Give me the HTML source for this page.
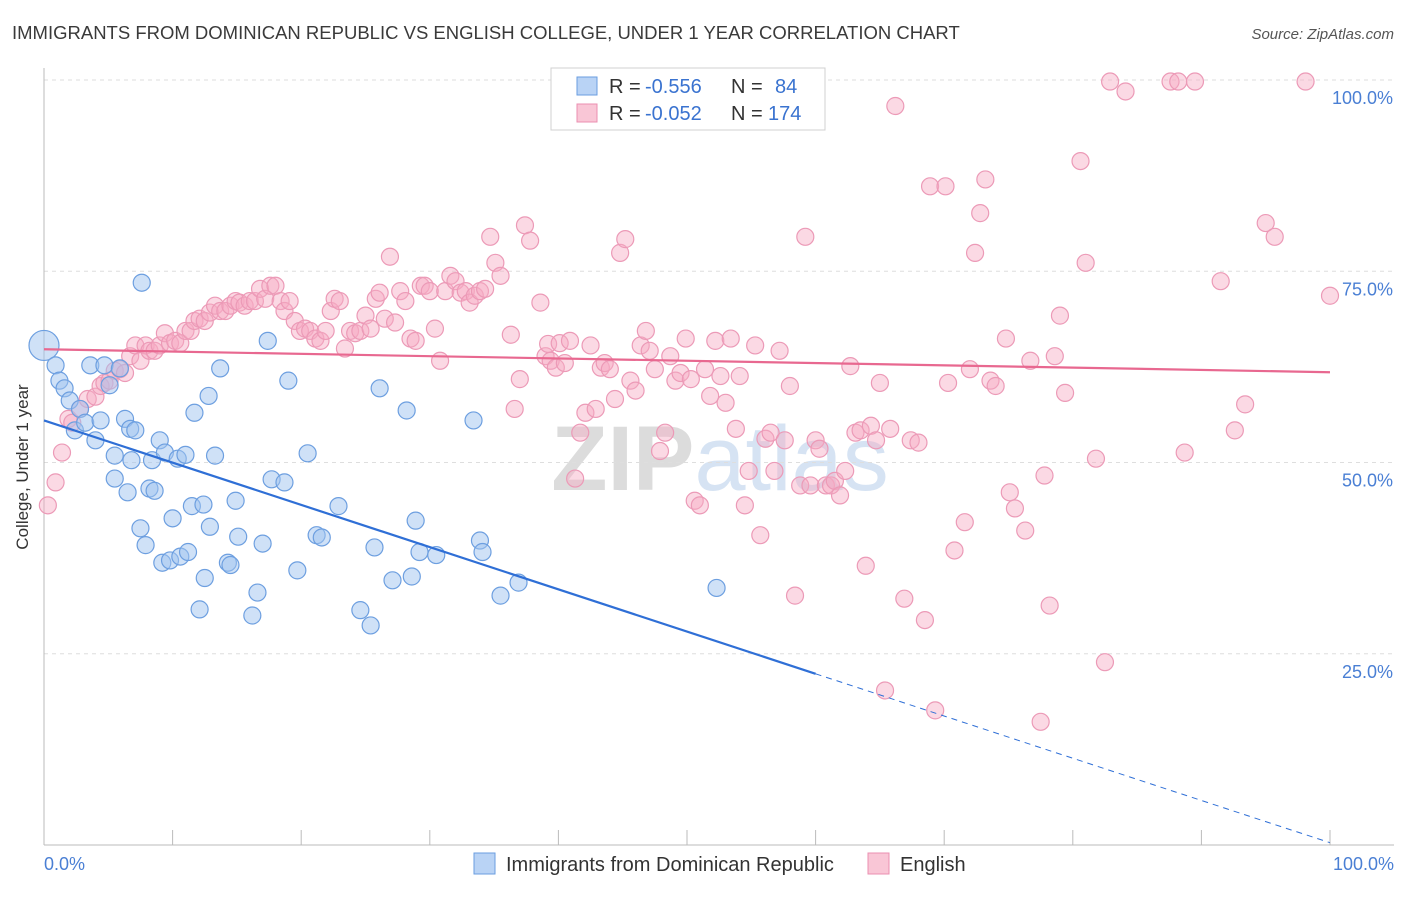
<!DOCTYPE html>
<html><head><meta charset="utf-8">
<style>
body{margin:0;background:#fff;font-family:"Liberation Sans",sans-serif;}
svg text{font-family:"Liberation Sans",sans-serif;}
</style></head>
<body>
<svg id="chart" width="1406" height="892" xmlns="http://www.w3.org/2000/svg">
<text x="12" y="39" font-size="18.5" fill="#3a3a3a">IMMIGRANTS FROM DOMINICAN REPUBLIC VS ENGLISH COLLEGE, UNDER 1 YEAR CORRELATION CHART</text>
<text x="1394" y="39" font-size="15" fill="#555" font-style="italic" text-anchor="end">Source: ZipAtlas.com</text>
<text x="720" y="490" font-size="92" fill="#e4e4e4" text-anchor="middle" font-family="Liberation Serif"><tspan font-weight="bold" fill="#dcdcdc">ZIP</tspan><tspan fill="#d6e3f3" font-family="Liberation Sans">atlas</tspan></text>
<g id="grid"></g>
<g id="axes"></g>
<g id="pink"></g>
<g id="blue"></g>
<g id="lines"></g>
<text x="19" y="458" font-size="17" fill="#333" text-anchor="middle" transform="rotate(-90 28 458)">College, Under 1 year</text>
<text x="44" y="870" font-size="18" fill="#4a7fd4">0.0%</text>
<text x="1394" y="870" font-size="18" fill="#4a7fd4" text-anchor="end">100.0%</text>
<g>
<rect x="551" y="68" width="274" height="62" fill="#fff" stroke="#d0d0d0"/>
<rect x="577" y="77" width="20" height="18" fill="#b9d3f5" stroke="#6a9ee0"/>
<text x="609" y="93" font-size="20" fill="#333">R =</text>
<text x="645" y="93" font-size="20" fill="#3a73d0">-0.556</text>
<text x="731" y="93" font-size="20" fill="#333">N =</text>
<text x="775" y="93" font-size="20" fill="#3a73d0">84</text>
<rect x="577" y="104" width="20" height="18" fill="#f9c6d6" stroke="#eb8fb0"/>
<text x="609" y="120" font-size="20" fill="#333">R =</text>
<text x="645" y="120" font-size="20" fill="#3a73d0">-0.052</text>
<text x="731" y="120" font-size="20" fill="#333">N =</text>
<text x="768" y="120" font-size="20" fill="#3a73d0">174</text>
</g>
<g>
<rect x="474" y="853" width="21" height="21" fill="#b9d3f5" stroke="#6a9ee0"/>
<text x="506" y="871" font-size="20" fill="#333">Immigrants from Dominican Republic</text>
<rect x="868" y="853" width="21" height="21" fill="#f9c6d6" stroke="#eb8fb0"/>
<text x="900" y="871" font-size="20" fill="#333">English</text>
</g>
</svg>
<script>
const yTicks=[100,75,50,25];
const yTickLabels=["100.0%","75.0%","50.0%","25.0%"];
const xTicks=[0,10,20,30,40,50,60,70,80,90,100];
const blueX=[0,0.9,1.2,1.6,2.0,2.4,2.8,3.2,3.6,4.0,4.4,4.7,5.1,5.5,5.5,5.9,6.3,6.7,6.5,6.8,7.1,7.5,7.6,7.9,8.2,8.4,8.6,9.0,9.2,9.4,9.8,10.0,10.4,10.6,11.0,11.2,11.5,11.7,12.1,12.4,12.5,12.8,12.9,13.3,13.7,14.3,14.5,14.9,15.1,16.2,16.6,17.0,17.4,17.7,18.7,19.0,19.7,20.5,21.2,21.6,22.9,24.6,25.4,25.7,26.1,27.1,28.2,28.6,28.9,29.2,30.5,33.4,33.9,34.1,35.5,36.9,52.3];
const blueY=[65.3,62.7,60.7,59.7,58.1,54.2,57.0,55.2,62.7,52.9,55.5,62.7,60.1,50.9,47.9,62.3,55.7,54.4,46.1,50.3,54.2,41.4,73.5,39.2,46.6,50.3,46.3,52.9,36.9,51.3,37.2,42.7,50.5,37.7,51.0,38.3,44.3,56.5,30.8,44.5,34.9,58.7,41.6,50.9,62.3,36.9,36.6,45.0,40.3,30.0,33.0,39.4,65.9,47.8,47.4,60.7,35.9,51.2,40.5,40.2,44.3,30.7,28.7,38.9,59.7,34.6,56.8,35.1,42.4,38.3,37.9,55.5,39.8,38.3,32.6,34.3,33.6];
const pinkX=[0.3,0.9,1.4,1.9,2.2,2.8,3.4,4.0,4.4,4.7,5.1,5.5,5.9,6.3,6.7,7.1,7.5,7.9,8.2,8.6,9.0,9.4,9.8,10.2,10.6,11.0,11.4,11.7,12.1,12.5,12.9,13.3,13.7,14.1,14.5,14.9,15.2,15.6,16.0,16.4,16.8,17.2,17.6,18.0,18.4,18.7,19.1,19.5,19.9,20.3,20.7,21.1,21.5,21.9,22.3,22.6,23.0,23.4,23.8,24.2,24.6,25.0,25.4,25.8,26.1,26.5,26.9,27.3,27.7,28.1,28.5,28.9,29.3,29.6,30.0,30.4,30.8,31.2,31.6,32.0,32.4,32.8,33.1,33.5,33.9,34.3,34.7,35.1,35.5,36.3,36.6,37.0,37.4,37.8,38.6,39.0,39.2,39.4,39.8,40.1,40.5,40.9,41.3,41.7,42.1,42.5,42.9,43.3,43.6,44.0,44.4,44.8,45.2,45.6,46.0,46.4,46.8,47.1,47.5,47.9,48.3,48.7,49.1,49.5,49.9,50.3,50.6,51.0,51.4,51.8,52.2,52.6,53.0,53.4,53.8,54.1,54.5,54.8,55.3,55.7,56.1,56.5,56.8,57.2,57.6,58.0,58.4,58.8,59.2,59.6,60.0,60.3,60.8,61.2,61.5,61.9,62.3,62.7,63.1,63.5,63.9,64.3,64.7,65.0,65.4,65.8,66.2,66.9,67.4,68.0,68.5,68.9,69.3,70.1,70.3,70.8,71.6,72.0,72.4,72.8,73.2,73.6,74.0,74.8,75.1,75.5,76.3,76.7,77.5,77.8,78.2,78.6,79.0,79.4,80.6,81.0,81.8,82.5,82.9,84.1,87.6,88.2,89.5,88.7,91.5,92.6,93.4,95.0,95.7,98.1,100];
const pinkY=[44.4,47.4,51.3,55.7,55.2,57.0,58.3,58.6,60.0,60.4,60.7,62.0,62.2,61.7,63.9,65.3,63.3,65.3,64.6,64.6,65.3,66.9,65.6,65.9,65.6,67.2,67.2,68.5,68.8,68.5,69.6,70.5,69.8,69.8,70.5,71.1,70.9,70.5,71.1,71.1,72.7,71.4,73.1,73.1,71.1,69.8,71.1,68.5,67.2,67.5,67.2,66.2,65.9,67.2,69.8,71.4,71.1,64.9,67.2,66.9,67.2,69.2,67.5,71.4,72.2,68.8,76.9,68.3,72.4,71.1,66.2,65.9,73.1,73.1,72.4,67.5,63.3,72.4,74.4,73.7,72.2,72.4,70.9,71.8,72.4,72.7,79.5,76.1,74.4,66.7,57.0,60.9,81.0,79.0,70.9,63.9,65.5,63.3,62.4,65.6,63.0,65.9,47.9,53.9,56.5,65.3,57.0,62.4,63.0,62.2,58.3,77.4,79.2,60.7,59.4,65.3,67.2,64.6,62.2,51.5,53.9,63.9,60.7,61.7,66.2,60.9,45.0,44.4,62.2,58.7,65.9,61.3,57.8,66.2,54.4,61.3,44.4,48.9,65.3,40.5,53.1,53.9,48.9,64.6,52.9,60.0,32.6,47.0,79.5,47.0,52.9,51.8,47.0,47.0,47.6,45.7,48.9,62.6,53.9,54.2,36.5,54.8,52.9,60.4,20.2,54.4,96.6,32.2,52.9,52.6,29.4,86.1,17.6,86.1,60.4,38.5,42.2,62.2,77.4,82.6,87.0,60.7,60.0,66.2,46.1,44.0,41.1,63.3,16.1,48.3,31.3,63.9,69.2,59.1,89.4,76.1,50.5,23.9,99.8,98.5,99.8,99.8,99.8,51.3,73.7,54.2,57.6,81.3,79.5,99.8,71.8];
const blueTrend=[55.5,0.3];
const pinkTrend=[64.8,61.8];
const blueSolidEnd=60;

const X0=44,X1=1330,Y0=845,Y100=80;
const sx=v=>X0+(X1-X0)*v/100;
const sy=v=>Y0-(Y0-Y100)*v/100;
const NS="http://www.w3.org/2000/svg";
function mk(tag,attrs,parent){const e=document.createElementNS(NS,tag);for(const k in attrs)e.setAttribute(k,attrs[k]);parent.appendChild(e);return e;}
const grid=document.getElementById('grid'),axes=document.getElementById('axes');
yTicks.forEach((t,i)=>{
  const l=mk('line',{x1:X0,x2:1394,y1:sy(t),y2:sy(t),stroke:'#dedede','stroke-dasharray':'4 4'},grid);
  
  
  const tx=mk('text',{x:1393,y:sy(t)+24,'font-size':18,fill:'#4a7fd4','text-anchor':'end'},axes);
  tx.textContent=yTickLabels[i];
  
  
});
const ax=mk('line',{x1:X0,x2:X0,y1:68,y2:Y0,stroke:'#bbb'},axes);


const bx=mk('line',{x1:X0,x2:1394,y1:Y0,y2:Y0,stroke:'#bbb'},axes);


xTicks.forEach(t=>{
  const tk=mk('line',{x1:sx(t),x2:sx(t),y1:Y0,y2:Y0-15,stroke:'#bbb'},axes);
  
  
});
const pg=document.getElementById('pink');
pinkX.forEach((x,i)=>{
  const c=mk('circle',{cx:sx(x),cy:sy(pinkY[i]),r:8.5,fill:'rgba(247,170,196,0.45)',stroke:'#ec9ab7','stroke-width':1.2},pg);
  
  
});
const bg=document.getElementById('blue');
blueX.forEach((x,i)=>{
  const c=mk('circle',{cx:sx(x),cy:sy(blueY[i]),r:i===0?15:8.5,fill:'rgba(160,195,240,0.5)',stroke:'#6d9fe0','stroke-width':1.2},bg);
  
  
});
const lg=document.getElementById('lines');
const by=x=>blueTrend[0]+(blueTrend[1]-blueTrend[0])*x/100;
const l1=mk('line',{x1:sx(0),y1:sy(by(0)),x2:sx(blueSolidEnd),y2:sy(by(blueSolidEnd)),stroke:'#2f6fd6','stroke-width':2.2},lg);


const l2=mk('line',{x1:sx(blueSolidEnd),y1:sy(by(blueSolidEnd)),x2:sx(100),y2:sy(by(100)),stroke:'#2f6fd6','stroke-width':1,'stroke-dasharray':'6 5'},lg);


const l3=mk('line',{x1:sx(0),y1:sy(pinkTrend[0]),x2:sx(100),y2:sy(pinkTrend[1]),stroke:'#e86890','stroke-width':2.2},lg);


</script>
</body></html>
